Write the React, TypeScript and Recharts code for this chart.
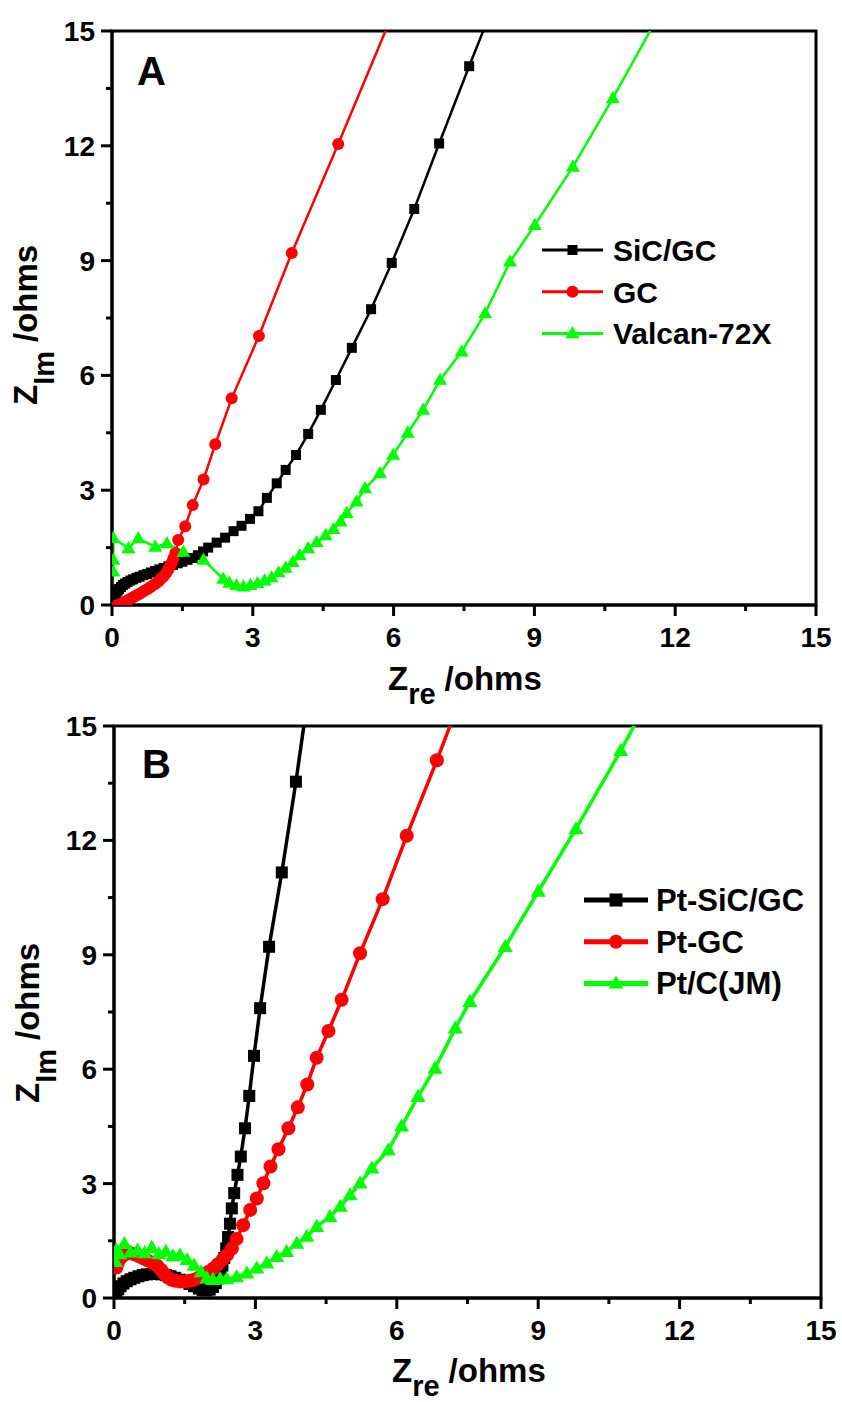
import React from 'react';
import { LineChart, Line, XAxis, YAxis, ReferenceArea } from 'recharts';

const FONT = '"Liberation Sans", Arial, Helvetica, sans-serif';

// shared axis ticks (major every 3, minor every 1.5)
const axisTicks = [0, 1.5, 3, 4.5, 6, 7.5, 9, 10.5, 12, 13.5, 15];

// ---------- Panel A ----------
const sicGcAX = [0.01, 0.02, 0.03, 0.05, 0.07, 0.09, 0.12, 0.15, 0.19, 0.23, 0.28, 0.33, 0.39, 0.45, 0.52, 0.59, 0.67, 0.75, 0.83, 0.92, 1.01, 1.1, 1.2, 1.3, 1.4, 1.5, 1.61, 1.72, 1.83, 1.94, 2.05, 2.23, 2.41, 2.59, 2.76, 2.94, 3.12, 3.3, 3.51, 3.7, 3.92, 4.18, 4.45, 4.77, 5.11, 5.52, 5.96, 6.44, 6.97, 7.61, 8.3];
const sicGcAY = [0.02, 0.08, 0.14, 0.2, 0.26, 0.31, 0.37, 0.42, 0.47, 0.52, 0.56, 0.6, 0.64, 0.67, 0.71, 0.74, 0.78, 0.81, 0.85, 0.89, 0.93, 0.97, 1.01, 1.05, 1.09, 1.13, 1.18, 1.23, 1.3, 1.4, 1.5, 1.63, 1.76, 1.93, 2.07, 2.25, 2.45, 2.8, 3.18, 3.53, 3.92, 4.47, 5.1, 5.88, 6.72, 7.73, 8.94, 10.35, 12.06, 14.08, 16.2];

const gcAX = [0.12, 0.16, 0.2, 0.25, 0.3, 0.35, 0.4, 0.46, 0.52, 0.58, 0.64, 0.7, 0.76, 0.82, 0.88, 0.94, 1.0, 1.05, 1.1, 1.15, 1.19, 1.23, 1.27, 1.31, 1.35, 1.41, 1.56, 1.72, 1.95, 2.2, 2.55, 3.13, 3.83, 4.82, 6.1];
const gcAY = [0.0, 0.02, 0.04, 0.07, 0.1, 0.13, 0.17, 0.21, 0.25, 0.29, 0.33, 0.38, 0.42, 0.47, 0.52, 0.57, 0.63, 0.69, 0.75, 0.83, 0.91, 1.0, 1.1, 1.22, 1.36, 1.7, 2.06, 2.61, 3.28, 4.2, 5.4, 7.03, 9.2, 12.05, 15.8];

const valcanAX = [0.03, 0.03, 0.03, 0.35, 0.56, 0.92, 1.17, 1.52, 1.95, 2.37, 2.5, 2.65, 2.8, 2.95, 3.1, 3.25, 3.4, 3.55, 3.7, 3.85, 4.0, 4.18, 4.36, 4.55, 4.72, 4.87, 5.0, 5.21, 5.39, 5.71, 5.99, 6.3, 6.63, 6.99, 7.45, 7.95, 8.48, 9.01, 9.82, 10.67, 11.6];
const valcanAY = [0.87, 1.18, 1.75, 1.48, 1.74, 1.52, 1.61, 1.39, 1.18, 0.68, 0.58, 0.51, 0.48, 0.52, 0.57, 0.64, 0.72, 0.85, 0.97, 1.12, 1.3, 1.48, 1.64, 1.82, 1.98, 2.18, 2.4, 2.7, 3.05, 3.44, 3.92, 4.5, 5.1, 5.88, 6.62, 7.62, 8.97, 9.93, 11.45, 13.24, 15.3];

// ---------- Panel B ----------
const ptSicBX = [0.02, 0.05, 0.09, 0.14, 0.2, 0.27, 0.35, 0.43, 0.52, 0.61, 0.7, 0.8, 0.9, 1.0, 1.1, 1.2, 1.3, 1.4, 1.5, 1.6, 1.7, 1.8, 1.88, 1.96, 2.03, 2.1, 2.16, 2.21, 2.26, 2.3, 2.34, 2.38, 2.42, 2.46, 2.5, 2.55, 2.62, 2.69, 2.78, 2.87, 2.97, 3.1, 3.29, 3.56, 3.86, 4.2];
const ptSicBY = [0.04, 0.14, 0.23, 0.31, 0.38, 0.44, 0.49, 0.53, 0.57, 0.6, 0.62, 0.63, 0.63, 0.62, 0.6, 0.57, 0.53, 0.48, 0.43, 0.37, 0.31, 0.25, 0.21, 0.2, 0.22, 0.29, 0.39, 0.52, 0.68, 0.85, 1.05, 1.3, 1.6, 1.95, 2.35, 2.75, 3.23, 3.71, 4.45, 5.3, 6.35, 7.6, 9.21, 11.16, 13.54, 16.5];

const ptGcBX = [0.05, 0.08, 0.12, 0.18, 0.25, 0.33, 0.42, 0.52, 0.62, 0.72, 0.82, 0.92, 1.0, 1.07, 1.14, 1.22, 1.3, 1.4, 1.5, 1.6, 1.7, 1.8, 1.9, 2.0, 2.1, 2.2, 2.3, 2.4, 2.5, 2.6, 2.74, 2.89, 3.03, 3.17, 3.32, 3.49, 3.7, 3.9, 4.1, 4.3, 4.55, 4.83, 5.22, 5.7, 6.21, 6.85, 7.5];
const ptGcBY = [0.8, 0.92, 1.02, 1.1, 1.16, 1.18, 1.15, 1.1, 1.04, 0.98, 0.92, 0.84, 0.74, 0.63, 0.54, 0.48, 0.45, 0.43, 0.43, 0.45, 0.48, 0.53, 0.6, 0.68, 0.77, 0.88, 1.0, 1.13, 1.3, 1.55, 1.91, 2.31, 2.61, 3.01, 3.45, 3.9, 4.45, 5.0, 5.6, 6.3, 7.0, 7.82, 9.04, 10.46, 12.12, 14.1, 16.2];

const ptCJmBX = [0.03, 0.05, 0.12, 0.22, 0.35, 0.5, 0.65, 0.8, 0.95, 1.1, 1.25, 1.4, 1.55, 1.7, 1.85, 1.97, 2.1, 2.25, 2.39, 2.6, 2.82, 3.03, 3.24, 3.45, 3.66, 3.88, 4.09, 4.3, 4.58, 4.8, 5.01, 5.22, 5.47, 5.82, 6.1, 6.45, 6.81, 7.24, 7.55, 8.3, 9.0, 9.8, 10.75, 11.6];
const ptCJmBY = [0.95, 1.25, 1.15, 1.42, 1.2, 1.25, 1.18, 1.32, 1.15, 1.22, 1.1, 1.12, 1.0, 0.85, 0.68, 0.52, 0.48, 0.5, 0.5, 0.55, 0.65, 0.78, 0.91, 1.08, 1.21, 1.43, 1.61, 1.87, 2.13, 2.4, 2.7, 3.01, 3.4, 3.88, 4.5, 5.28, 6.02, 7.07, 7.77, 9.21, 10.66, 12.3, 14.35, 16.3];

const toPoints = (xs: number[], ys: number[]) =>
  xs.slice(0, Math.min(xs.length, ys.length)).map((x, i) => ({ x, y: ys[i] }));

const BLACK = '#000000';
const RED = '#ff0000';
const GREEN = '#00ff00';

const XTick = (props: any) => {
  const { x, y, payload } = props;
  const v = payload.value;
  const major = Math.abs(v % 3) < 1e-9;
  return (
    <g>
      <line x1={x} x2={x} y1={y} y2={y + (major ? 11 : 6)} stroke="#000" strokeWidth={3} />
      {major && (
        <text x={x} y={y + 42} textAnchor="middle" fontFamily={FONT} fontWeight="bold" fontSize={28} fill="#000">
          {v}
        </text>
      )}
    </g>
  );
};

const YTick = (props: any) => {
  const { x, y, payload } = props;
  const v = payload.value;
  const major = Math.abs(v % 3) < 1e-9;
  return (
    <g>
      <line x1={x} x2={x - (major ? 11 : 6)} y1={y} y2={y} stroke="#000" strokeWidth={3} />
      {major && (
        <text x={x - 17} y={y + 10} textAnchor="end" fontFamily={FONT} fontWeight="bold" fontSize={28} fill="#000">
          {v}
        </text>
      )}
    </g>
  );
};

const squareDot = (s: number, color: string) => (p: any) => {
  const { cx, cy, index } = p;
  if (cx == null || cy == null) return <g key={`s${index}`} />;
  return <rect key={`s${index}`} x={cx - s / 2} y={cy - s / 2} width={s} height={s} fill={color} />;
};
const circleDot = (r: number, color: string) => (p: any) => {
  const { cx, cy, index } = p;
  if (cx == null || cy == null) return <g key={`c${index}`} />;
  return <circle key={`c${index}`} cx={cx} cy={cy} r={r} fill={color} />;
};
const triDot = (s: number, color: string) => (p: any) => {
  const { cx, cy, index } = p;
  if (cx == null || cy == null) return <g key={`t${index}`} />;
  const h = s * 0.87;
  return (
    <polygon
      key={`t${index}`}
      points={`${cx},${cy - h * 0.6} ${cx - s / 2},${cy + h * 0.4} ${cx + s / 2},${cy + h * 0.4}`}
      fill={color}
    />
  );
};

const Panel = ({ height, margin, series }: any) => (
  <LineChart width={842} height={height} margin={margin}>
    <XAxis
      type="number"
      dataKey="x"
      domain={[0, 15]}
      ticks={axisTicks}
      interval={0}
      allowDataOverflow
      tick={XTick}
      tickLine={false}
      tickSize={0}
      tickMargin={0}
      axisLine={{ stroke: '#000', strokeWidth: 3 }}
      height={60}
    />
    <YAxis
      type="number"
      dataKey="y"
      domain={[0, 15]}
      ticks={axisTicks}
      interval={0}
      allowDataOverflow
      tick={YTick}
      tickLine={false}
      tickSize={0}
      tickMargin={0}
      axisLine={{ stroke: '#000', strokeWidth: 3 }}
      width={60}
    />
    <ReferenceArea x1={0} x2={15} y1={0} y2={15} fill="none" fillOpacity={0} stroke="#000" strokeWidth={3} ifOverflow="visible" />
    {series.map((s: any) => (
      <Line
        key={s.name}
        name={s.name}
        data={s.data}
        dataKey="y"
        type="linear"
        stroke={s.color}
        strokeWidth={s.width}
        dot={s.dot}
        activeDot={false}
        isAnimationActive={false}
        legendType="none"
      />
    ))}
  </LineChart>
);

const seriesA = [
  { name: 'SiC/GC', data: toPoints(sicGcAX, sicGcAY), color: BLACK, width: 2.5, dot: squareDot(10, BLACK) },
  { name: 'GC', data: toPoints(gcAX, gcAY), color: RED, width: 2.5, dot: circleDot(6, RED) },
  { name: 'Valcan-72X', data: toPoints(valcanAX, valcanAY), color: GREEN, width: 2.5, dot: triDot(14, GREEN) },
];

const seriesB = [
  { name: 'Pt-SiC/GC', data: toPoints(ptSicBX, ptSicBY), color: BLACK, width: 3.5, dot: squareDot(12, BLACK) },
  { name: 'Pt-GC', data: toPoints(ptGcBX, ptGcBY), color: RED, width: 3.5, dot: circleDot(7, RED) },
  { name: 'Pt/C(JM)', data: toPoints(ptCJmBX, ptCJmBY), color: GREEN, width: 3.5, dot: triDot(15, GREEN) },
];

const LegendMarker = ({ kind, cx, cy, color, s }: any) => {
  if (kind === 'square') return <rect x={cx - s / 2} y={cy - s / 2} width={s} height={s} fill={color} />;
  if (kind === 'circle') return <circle cx={cx} cy={cy} r={s / 2} fill={color} />;
  const h = s * 0.87;
  return <polygon points={`${cx},${cy - h * 0.6} ${cx - s / 2},${cy + h * 0.4} ${cx + s / 2},${cy + h * 0.4}`} fill={color} />;
};

const legendA = [
  { label: 'SiC/GC', color: BLACK, kind: 'square', s: 10 },
  { label: 'GC', color: RED, kind: 'circle', s: 12 },
  { label: 'Valcan-72X', color: GREEN, kind: 'triangle', s: 14 },
];
const legendB = [
  { label: 'Pt-SiC/GC', color: BLACK, kind: 'square', s: 13 },
  { label: 'Pt-GC', color: RED, kind: 'circle', s: 14 },
  { label: 'Pt/C(JM)', color: GREEN, kind: 'triangle', s: 15 },
];

const Overlay = () => (
  <svg width={842} height={1402} style={{ position: 'absolute', left: 0, top: 0, pointerEvents: 'none' }}>
    <text x={137} y={85} fontFamily={FONT} fontWeight="bold" fontSize={40} fill="#000">A</text>
    <text x={142} y={778} fontFamily={FONT} fontWeight="bold" fontSize={40} fill="#000">B</text>

    <text x={388} y={690} fontFamily={FONT} fontWeight="bold" fontSize={33} fill="#000">
      Z<tspan fontSize={29} dy={14}>re</tspan>
      <tspan dy={-14} dx={9}>/ohms</tspan>
    </text>
    <text x={392} y={1382} fontFamily={FONT} fontWeight="bold" fontSize={33} fill="#000">
      Z<tspan fontSize={29} dy={14}>re</tspan>
      <tspan dy={-14} dx={9}>/ohms</tspan>
    </text>

    <text transform="translate(37,405) rotate(-90)" fontFamily={FONT} fontWeight="bold" fontSize={33} fill="#000">
      Z<tspan fontSize={29} dy={17}>Im</tspan>
      <tspan dy={-17} dx={9}>/ohms</tspan>
    </text>
    <text transform="translate(39,1103) rotate(-90)" fontFamily={FONT} fontWeight="bold" fontSize={33} fill="#000">
      Z<tspan fontSize={29} dy={17}>Im</tspan>
      <tspan dy={-17} dx={9}>/ohms</tspan>
    </text>

    {legendA.map((it, i) => {
      const cy = 250 + i * 41.7;
      return (
        <g key={it.label}>
          <line x1={542} x2={603} y1={cy} y2={cy} stroke={it.color} strokeWidth={3} />
          <LegendMarker kind={it.kind} cx={572.5} cy={cy} color={it.color} s={it.s} />
          <text x={613} y={cy + 11} fontFamily={FONT} fontWeight="bold" fontSize={30} fill="#000">{it.label}</text>
        </g>
      );
    })}

    {legendB.map((it, i) => {
      const cy = 900 + i * 41.7;
      return (
        <g key={it.label}>
          <line x1={584} x2={648} y1={cy} y2={cy} stroke={it.color} strokeWidth={5} />
          <LegendMarker kind={it.kind} cx={616} cy={cy} color={it.color} s={it.s} />
          <text x={656} y={cy + 11} fontFamily={FONT} fontWeight="bold" fontSize={31} fill="#000">{it.label}</text>
        </g>
      );
    })}
  </svg>
);

export default function App() {
  return (
    <div style={{ position: 'absolute', left: 0, top: 0, width: 842, height: 1402, background: '#fff' }}>
      <div style={{ position: 'absolute', left: 0, top: 0 }}>
        <Panel height={700} margin={{ top: 31, right: 26, bottom: 35, left: 52 }} series={seriesA} />
      </div>
      <div style={{ position: 'absolute', left: 0, top: 700 }}>
        <Panel height={702} margin={{ top: 26, right: 21, bottom: 44, left: 54 }} series={seriesB} />
      </div>
      <Overlay />
    </div>
  );
}
